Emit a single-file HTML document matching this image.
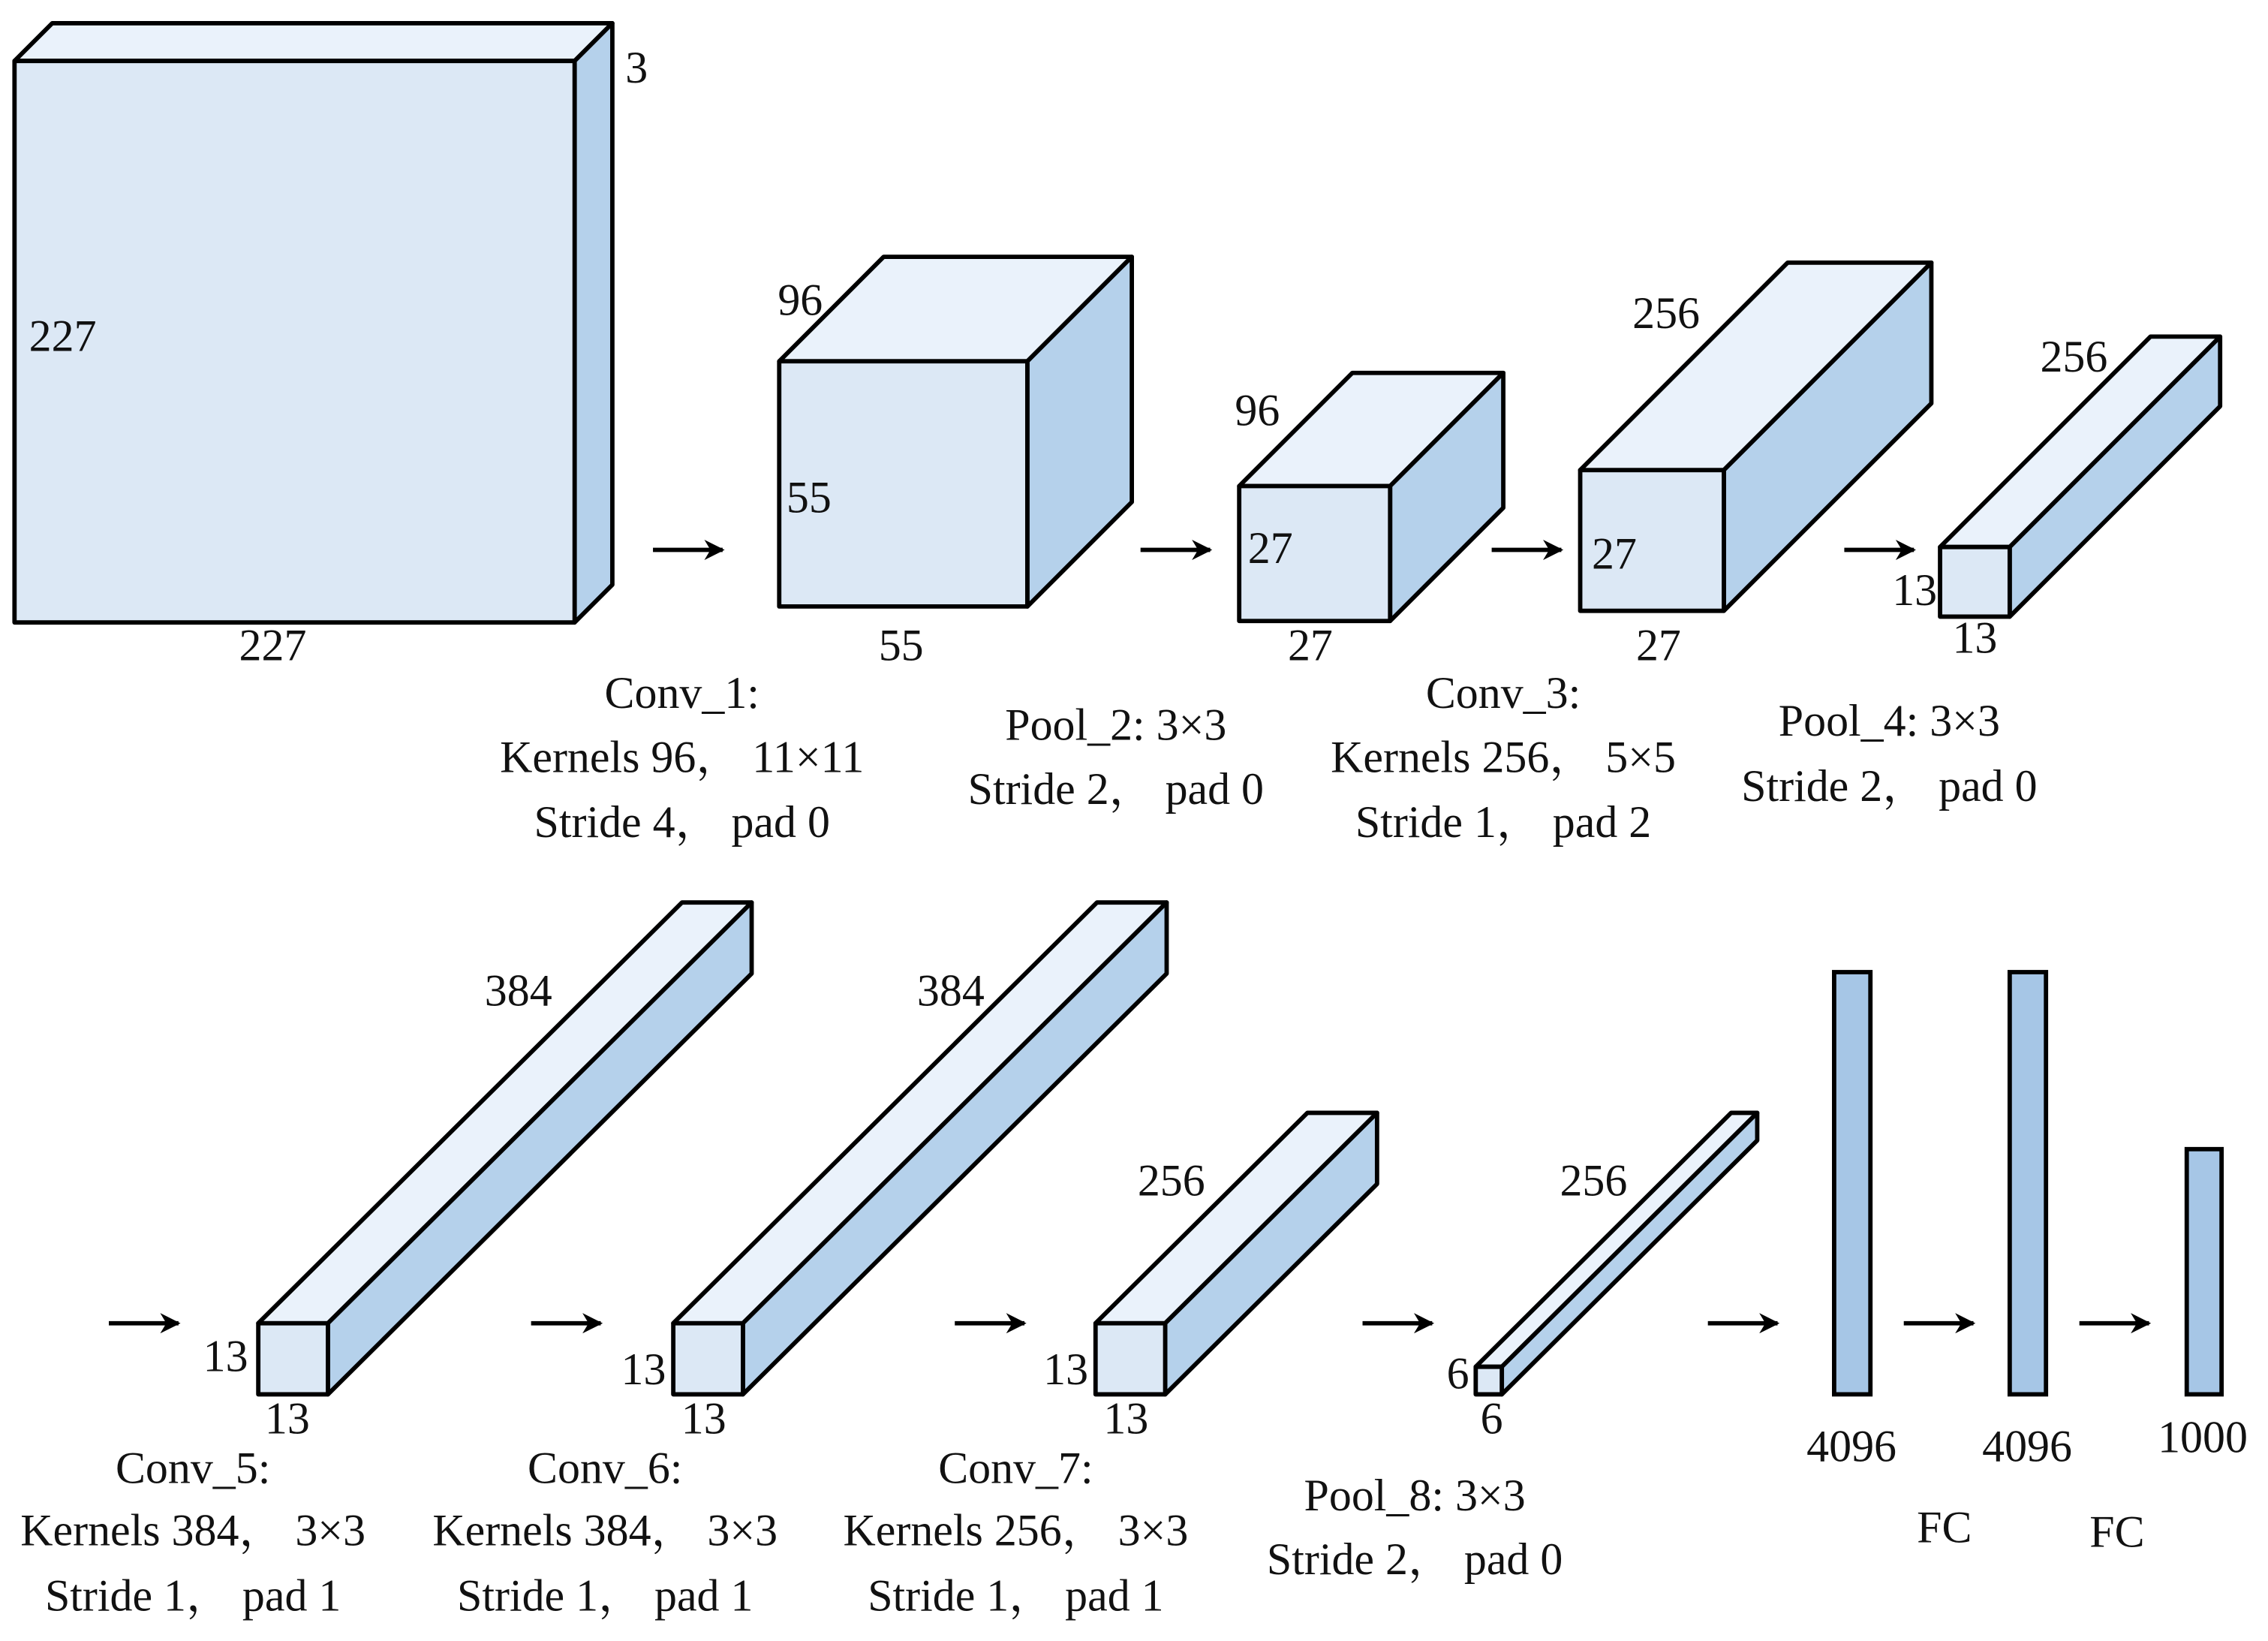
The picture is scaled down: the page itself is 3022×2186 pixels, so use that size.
<!DOCTYPE html>
<html><head><meta charset="utf-8"><style>
html,body{margin:0;padding:0;background:#fff}
svg{display:block}
text{font-family:"Liberation Serif","Times New Roman","Noto Serif CJK SC",serif;font-size:31px;fill:#111}
.f{fill:#dce8f5;stroke:#000;stroke-width:3;stroke-linejoin:round}
.t{fill:#eaf2fb;stroke:#000;stroke-width:3;stroke-linejoin:round}
.s{fill:#b5d1eb;stroke:#000;stroke-width:3;stroke-linejoin:round}
.b{fill:#a6c6e6;stroke:#000;stroke-width:3}
.c{text-anchor:middle}
</style></head><body>
<svg width="3022" height="2186" viewBox="0 0 1563 1131" preserveAspectRatio="none">
<defs>
<marker id="ah" viewBox="0 0 10 10" refX="9" refY="5" markerWidth="16" markerHeight="14" orient="auto" markerUnits="userSpaceOnUse"><path d="M0,0 L10,5 L0,10 L3,5 z" fill="#000"/></marker></defs>
<g transform="translate(-2,-1)">
<polygon class="t" points="12,43 38,17 424,17 398,43"/>
<polygon class="s" points="398,43 424,17 424,404 398,430"/>
<rect class="f" x="12" y="43" width="386" height="387"/>
<text x="433" y="58">3</text><text x="22" y="243">227</text><text x="190" y="456" class="c">227</text>
<polygon class="t" points="539,250 611,178 782,178 710,250"/>
<polygon class="s" points="710,250 782,178 782,347 710,419"/>
<rect class="f" x="539" y="250" width="171" height="169"/>
<text x="538" y="218">96</text><text x="544" y="354">55</text><text x="623" y="456" class="c">55</text>
<polygon class="t" points="856,336 934,258 1038,258 960,336"/>
<polygon class="s" points="960,336 1038,258 1038,351 960,429"/>
<rect class="f" x="856" y="336" width="104" height="93"/>
<text x="853" y="294">96</text><text x="862" y="389">27</text><text x="905" y="456" class="c">27</text>
<polygon class="t" points="1091,325 1234,182 1333,182 1190,325"/>
<polygon class="s" points="1190,325 1333,182 1333,279 1190,422"/>
<rect class="f" x="1091" y="325" width="99" height="97"/>
<text x="1127" y="227">256</text><text x="1099" y="393">27</text><text x="1145" y="456" class="c">27</text>
<polygon class="t" points="1339,378 1484,233 1532,233 1387,378"/>
<polygon class="s" points="1387,378 1532,233 1532,281 1387,426"/>
<rect class="f" x="1339" y="378" width="48" height="48"/>
<text x="1408" y="257">256</text><text x="1306" y="418">13</text><text x="1363" y="451" class="c">13</text>
<g stroke="#000" stroke-width="3" marker-end="url(#ah)">
<line x1="452" y1="380" x2="500" y2="380"/><line x1="788" y1="380" x2="836" y2="380"/>
<line x1="1030" y1="380" x2="1078" y2="380"/><line x1="1273" y1="380" x2="1321" y2="380"/>
<line x1="77" y1="913" x2="125" y2="913"/><line x1="368" y1="913" x2="416" y2="913"/>
<line x1="660" y1="913" x2="708" y2="913"/><line x1="941" y1="913" x2="989" y2="913"/>
<line x1="1179" y1="913" x2="1227" y2="913"/><line x1="1314" y1="913" x2="1362" y2="913"/>
<line x1="1435" y1="913" x2="1483" y2="913"/>
</g>
<text class="c" x="472" y="489">Conv_1:</text><text class="c" x="472" y="533">Kernels 96，  11×11</text><text class="c" x="472" y="578">Stride 4，  pad 0</text>
<text class="c" x="771" y="511">Pool_2:  3×3</text><text class="c" x="771" y="555">Stride 2，  pad 0</text>
<text class="c" x="1038" y="489">Conv_3:</text><text class="c" x="1038" y="533">Kernels 256，  5×5</text><text class="c" x="1038" y="578">Stride 1，  pad 2</text>
<text class="c" x="1304" y="508">Pool_4:  3×3</text><text class="c" x="1304" y="553">Stride 2，  pad 0</text>
<polygon class="t" points="180,913 472,623 520,623 228,913"/>
<polygon class="s" points="228,913 520,623 520,672 228,962"/>
<rect class="f" x="180" y="913" width="48" height="49"/>
<text x="336" y="694">384</text><text x="142" y="946">13</text><text x="200" y="989" class="c">13</text>
<polygon class="t" points="466,913 758,623 806,623 514,913"/>
<polygon class="s" points="514,913 806,623 806,672 514,962"/>
<rect class="f" x="466" y="913" width="48" height="49"/>
<text x="634" y="694">384</text><text x="430" y="955">13</text><text x="487" y="989" class="c">13</text>
<polygon class="t" points="757,913 903,768 951,768 805,913"/>
<polygon class="s" points="805,913 951,768 951,817 805,962"/>
<rect class="f" x="757" y="913" width="48" height="49"/>
<text x="786" y="825">256</text><text x="721" y="955">13</text><text x="778" y="989" class="c">13</text>
<polygon class="t" points="1019,943 1195,768 1213,768 1037,943"/>
<polygon class="s" points="1037,943 1213,768 1213,787 1037,962"/>
<rect class="f" x="1019" y="943" width="18" height="19"/>
<text x="1077" y="825">256</text><text x="999" y="958">6</text><text x="1030" y="989" class="c">6</text>
<rect class="b" x="1266" y="671" width="25" height="291"/>
<rect class="b" x="1387" y="671" width="25" height="291"/>
<rect class="b" x="1509" y="793" width="24" height="169"/>
<text class="c" x="1278" y="1008">4096</text><text class="c" x="1399" y="1008">4096</text><text class="c" x="1520" y="1002">1000</text>
<text class="c" x="1342" y="1064">FC</text><text class="c" x="1461" y="1067">FC</text>
<text class="c" x="135" y="1023">Conv_5:</text><text class="c" x="135" y="1066">Kernels 384，  3×3</text><text class="c" x="135" y="1111">Stride 1，  pad 1</text>
<text class="c" x="419" y="1023">Conv_6:</text><text class="c" x="419" y="1066">Kernels 384，  3×3</text><text class="c" x="419" y="1111">Stride 1，  pad 1</text>
<text class="c" x="702" y="1023">Conv_7:</text><text class="c" x="702" y="1066">Kernels 256，  3×3</text><text class="c" x="702" y="1111">Stride 1，  pad 1</text>
<text class="c" x="977" y="1042">Pool_8:  3×3</text><text class="c" x="977" y="1086">Stride 2，  pad 0</text>
</g>
</svg>
</body></html>
